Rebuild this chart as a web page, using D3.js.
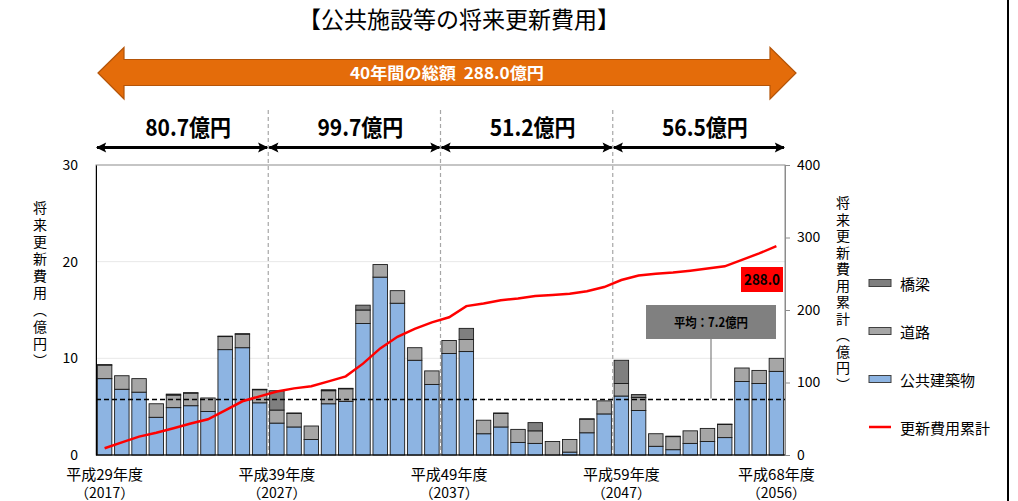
<!DOCTYPE html>
<html>
  <head>
    <meta charset="utf-8">
    <script src="https://d3js.org/d3.v7.min.js"></script>
    <title>公共施設等の将来更新費用</title>
    <style>
      body { margin: 0px; background: #fff; }
      text { font-family: 'Noto Sans CJK JP', sans-serif; fill: #000; }
      .tick text { font-size: 14px; }
      .vtitle { writing-mode: vertical-rl; font-size: 14px; }
    </style>
  </head>
  <body>
    <svg width="1018" height="501"></svg>
    <script>
      // 公共建築物 / 道路 / 橋梁 (億円), 平成29年度(2017) .. 平成68年度(2056)
      const building = [7.9, 6.8, 6.5, 3.9, 4.9, 5.1, 4.5, 10.9, 11.1, 5.4,
        3.3, 2.9, 1.6, 5.3, 5.55, 13.6, 18.4, 15.7, 9.8, 7.3,
        10.5, 10.7, 2.2, 2.9, 1.3, 1.2, 0.0, 0.3, 2.3, 4.25,
        6.1, 4.6, 0.9, 0.55, 1.2, 1.4, 1.8, 7.6, 7.4, 8.65];
      const road = [1.4, 1.4, 1.4, 1.4, 1.3, 1.3, 1.4, 1.35, 1.4, 1.35,
        1.35, 1.4, 1.4, 1.35, 1.3, 1.4, 1.3, 1.3, 1.3, 1.4,
        1.35, 1.25, 1.4, 1.4, 1.35, 1.3, 1.4, 1.3, 1.4, 1.35,
        1.3, 1.35, 1.3, 1.35, 1.3, 1.35, 1.35, 1.4, 1.35, 1.35];
      const bridge = [0.05, 0, 0, 0, 0.1, 0.05, 0, 0.05, 0.05, 0.05,
        2.0, 0.05, 0, 0.1, 0.05, 0.5, 0, 0, 0, 0,
        0, 1.15, 0, 0.05, 0, 0.85, 0, 0, 0.05, 0,
        2.4, 0.3, 0, 0.05, 0, 0, 0.05, 0, 0, 0];
      // 更新費用累計 (億円)
      const cumulative = [9.3, 17.5, 25.4, 30.7, 37.0, 43.4, 49.3, 61.6, 74.1, 80.9,
        87.6, 91.9, 94.9, 101.6, 108.5, 126, 147, 163, 174, 183,
        190, 205.4, 209.0, 213.3, 216.0, 219.3, 220.7, 222.3, 226.0, 231.6,
        241.4, 247.7, 249.9, 251.8, 254.3, 257.1, 260.2, 269.2, 278.0, 288.0];
      const years = d3.range(2017, 2057);
      const xLabels = [
        { i: 0, era: '平成29年度', year: '（2017）' },
        { i: 10, era: '平成39年度', year: '（2027）' },
        { i: 20, era: '平成49年度', year: '（2037）' },
        { i: 30, era: '平成59年度', year: '（2047）' },
        { i: 39, era: '平成68年度', year: '（2056）' }
      ];
      const periodTotals = ['80.7億円', '99.7億円', '51.2億円', '56.5億円'];
      const avgLineValue = 5.75;   // where the dashed average line sits on the left axis
      const avgLabel = '平均：7.2億円';
      const finalLabel = '288.0';
      const seriesNames = ['公共建築物', '道路', '橋梁'];
      const seriesColors = ['#8db4e2', '#a6a6a6', '#7f7f7f'];

      const svg = d3.select('svg');
      const pLeft = 96, pRight = 785, pTop = 165, pBottom = 455;

      const x = d3.scaleBand().domain(d3.range(40)).range([pLeft, pRight])
        .paddingInner(0.16).paddingOuter(0.08);
      const y = d3.scaleLinear().domain([0, 30]).range([pBottom, pTop]);
      const y2 = d3.scaleLinear().domain([0, 400]).range([pBottom, pTop]);

      // title
      svg.append('text')
        .attr('x', 459).attr('y', 28)
        .attr('text-anchor', 'middle')
        .style('font-size', '23px')
        .text('【公共施設等の将来更新費用】');

      // big orange arrow
      svg.append('path')
        .attr('d', 'M98,73 L124,47.5 L124,59.5 L770,59.5 L770,47.5 L796,73 L770,99 L770,85.5 L124,85.5 L124,99 Z')
        .attr('fill', '#e46c0a')
        .attr('stroke', '#b45408')
        .attr('stroke-width', 1.2);
      svg.append('text')
        .attr('x', 447).attr('y', 79)
        .attr('text-anchor', 'middle')
        .attr('textLength', 194).attr('lengthAdjust', 'spacingAndGlyphs')
        .style('font-size', '16px').style('font-weight', 'bold')
        .style('fill', '#fff')
        .text('40年間の総額\u00a0\u00a0288.0億円');

      // period arrows
      const defs = svg.append('defs');
      defs.append('marker')
        .attr('id', 'ah').attr('viewBox', '0 0 10 10')
        .attr('refX', 9).attr('refY', 5)
        .attr('markerWidth', 4).attr('markerHeight', 3.4)
        .attr('markerUnits', 'strokeWidth')
        .attr('orient', 'auto-start-reverse')
        .append('path').attr('d', 'M0,0 L10,5 L0,10 L2,5 Z').attr('fill', '#000');

      const bounds = [0, 10, 20, 30, 40].map(i => i < 40 ? x.step() * i + pLeft : pRight);
      periodTotals.forEach((t, k) => {
        const x0 = bounds[k], x1 = bounds[k + 1];
        svg.append('line')
          .attr('x1', x0 + 1).attr('x2', x1 - 1)
          .attr('y1', 147.5).attr('y2', 147.5)
          .attr('stroke', '#000').attr('stroke-width', 3)
          .attr('marker-start', 'url(#ah)').attr('marker-end', 'url(#ah)');
        svg.append('text')
          .attr('x', (x0 + x1) / 2 + 6).attr('y', 136)
          .attr('text-anchor', 'middle')
          .attr('textLength', 86).attr('lengthAdjust', 'spacingAndGlyphs')
          .style('font-size', '23px').style('font-weight', 'bold')
          .text(t);
      });

      // gridlines
      svg.append('g').selectAll('line').data([10, 20]).join('line')
        .attr('x1', pLeft).attr('x2', pRight)
        .attr('y1', d => y(d)).attr('y2', d => y(d))
        .attr('stroke', '#e8e8e8');

      // plot frame
      svg.append('rect')
        .attr('x', pLeft).attr('y', pTop)
        .attr('width', pRight - pLeft).attr('height', pBottom - pTop)
        .attr('fill', 'none').attr('stroke', '#8c8c8c');

      // stacked bars
      const rows = years.map((yr, i) => ({ i, b: building[i], r: road[i], g: bridge[i] }));
      const stack = d3.stack().keys(['b', 'r', 'g'])(rows);
      svg.append('g').selectAll('g').data(stack).join('g')
        .attr('fill', (d, k) => seriesColors[k])
        .selectAll('rect').data(d => d.filter(s => s[1] - s[0] > 0)).join('rect')
          .attr('x', d => x(d.data.i))
          .attr('width', x.bandwidth())
          .attr('y', d => y(d[1]))
          .attr('height', d => y(d[0]) - y(d[1]))
          .attr('stroke', '#1a1a1a').attr('stroke-width', 0.9);

      // period dividers
      svg.append('g').selectAll('line').data(bounds.slice(1, 4)).join('line')
        .attr('x1', d => d).attr('x2', d => d)
        .attr('y1', 110).attr('y2', pBottom)
        .attr('stroke', '#a6a6a6').attr('stroke-width', 1.2)
        .attr('stroke-dasharray', '4,3');

      // average line
      svg.append('line')
        .attr('x1', pLeft).attr('x2', pRight)
        .attr('y1', y(avgLineValue)).attr('y2', y(avgLineValue))
        .attr('stroke', '#000').attr('stroke-width', 1.5)
        .attr('stroke-dasharray', '5,3');

      // cumulative line
      svg.append('path')
        .datum(cumulative)
        .attr('fill', 'none').attr('stroke', '#ff0000').attr('stroke-width', 2.5)
        .attr('d', d3.line().x((d, i) => x(i) + x.bandwidth() / 2).y(d => y2(d)));

      // axes
      const yAxisG = svg.append('g').attr('transform', `translate(${pLeft},0)`)
        .call(d3.axisLeft(y).tickValues([0, 10, 20, 30]).tickSize(0).tickPadding(18));
      yAxisG.select('.domain').attr('stroke', '#000');
      const y2AxisG = svg.append('g').attr('transform', `translate(${pRight},0)`)
        .call(d3.axisRight(y2).tickValues([0, 100, 200, 300, 400]).tickSize(5).tickPadding(7));
      y2AxisG.select('.domain').attr('stroke', '#8c8c8c');
      y2AxisG.selectAll('.tick line').attr('stroke', '#8c8c8c');
      svg.selectAll('.tick text').attr('fill', '#000');
      svg.append('line')
        .attr('x1', pLeft).attr('x2', pRight).attr('y1', pBottom).attr('y2', pBottom)
        .attr('stroke', '#000').attr('stroke-width', 1.2);

      // x labels
      const xl = svg.append('g').selectAll('g').data(xLabels).join('g')
        .attr('transform', d => `translate(${x(d.i) + x.bandwidth() / 2},0)`);
      xl.append('text').attr('y', 480).attr('text-anchor', 'middle')
        .style('font-size', '15px').text(d => d.era);
      xl.append('text').attr('y', 498).attr('text-anchor', 'middle')
        .style('font-size', '14px').text(d => d.year);

      // vertical axis titles
      svg.append('text').attr('class', 'vtitle')
        .attr('x', 40).attr('y', 201)
        .style('letter-spacing', '3px')
        .text('将来更新費用（億円）');
      svg.append('text').attr('class', 'vtitle')
        .attr('x', 843).attr('y', 196)
        .style('letter-spacing', '2.5px')
        .text('将来更新費用累計（億円）');

      // average callout
      svg.append('line')
        .attr('x1', 711).attr('x2', 711).attr('y1', 338).attr('y2', y(avgLineValue) - 1)
        .attr('stroke', '#808080').attr('stroke-width', 1.2);
      svg.append('rect')
        .attr('x', 646).attr('y', 305).attr('width', 130).attr('height', 34)
        .attr('fill', '#808080');
      svg.append('text')
        .attr('x', 711).attr('y', 327).attr('text-anchor', 'middle')
        .attr('textLength', 74).attr('lengthAdjust', 'spacingAndGlyphs')
        .style('font-size', '13px').style('font-weight', 'bold')
        .text(avgLabel);

      // final value label
      svg.append('rect')
        .attr('x', 741).attr('y', 267).attr('width', 42).attr('height', 25)
        .attr('fill', '#ff0000');
      svg.append('text')
        .attr('x', 762).attr('y', 285).attr('text-anchor', 'middle')
        .attr('textLength', 36).attr('lengthAdjust', 'spacingAndGlyphs')
        .style('font-size', '15px').style('font-weight', 'bold')
        .text(finalLabel);

      // legend
      const legend = svg.append('g');
      [2, 1, 0].forEach((k, j) => {
        const ly = 283 + j * 48;
        legend.append('rect')
          .attr('x', 869).attr('y', ly - 3.5).attr('width', 22).attr('height', 7)
          .attr('fill', seriesColors[k]).attr('stroke', '#404040');
        legend.append('text')
          .attr('x', 900).attr('y', ly).attr('dominant-baseline', 'central')
          .style('font-size', '15px').text(seriesNames[k]);
      });
      legend.append('line')
        .attr('x1', 869).attr('x2', 891).attr('y1', 427).attr('y2', 427)
        .attr('stroke', '#ff0000').attr('stroke-width', 2.5);
      legend.append('text')
        .attr('x', 900).attr('y', 427).attr('dominant-baseline', 'central')
        .style('font-size', '15px').text('更新費用累計');

      // right frame edge
      svg.append('line')
        .attr('x1', 1008).attr('x2', 1008).attr('y1', 0).attr('y2', 501)
        .attr('stroke', '#000').attr('stroke-width', 2);
    </script>
  </body>
</html>
